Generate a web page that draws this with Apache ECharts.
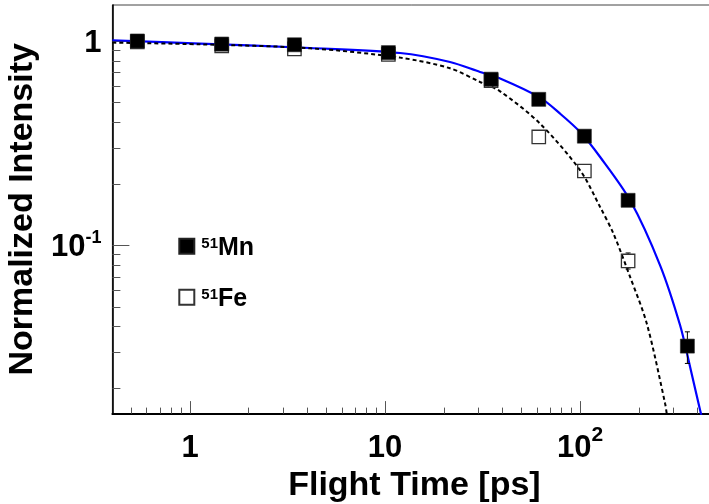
<!DOCTYPE html>
<html><head><meta charset="utf-8">
<script src="https://cdn.jsdelivr.net/npm/echarts@6/dist/echarts.min.js"></script>
<style>html,body{margin:0;padding:0;background:#fff}#c{width:709px;height:504px}</style>
</head><body><div id="c"></div>
<script>
// ---- data ----
const mnTime = [0.537, 1.454, 3.43, 10.4, 34.97, 61.4, 105.2, 176.3, 355];
const mnIntensity = [1.00, 0.966, 0.958, 0.877, 0.650, 0.518, 0.342, 0.166, 0.0321];
const mnErrLow = [0.985, 0.95, 0.94, 0.86, 0.635, 0.505, 0.333, 0.160, 0.0264];
const mnErrHigh = [1.015, 0.98, 0.975, 0.895, 0.665, 0.53, 0.351, 0.172, 0.0377];
const feTime = [0.537, 1.454, 3.43, 10.4, 34.97, 61.4, 105.2, 176.3];
const feIntensity = [0.99, 0.947, 0.914, 0.86, 0.64, 0.339, 0.231, 0.0838];
const feErrLow = [0.975, 0.93, 0.9, 0.845, 0.625, 0.33, 0.224, 0.0765];
const feErrHigh = [1.005, 0.965, 0.93, 0.875, 0.655, 0.348, 0.238, 0.0917];
const mnFitTime = [0.4, 1.125, 4.125, 11.94, 21.54, 30.7, 38.9, 62.3, 78.97, 100, 126.7, 180.5, 257.2, 325.7, 366.6, 412.6, 422.4];
const mnFitIntensity = [1.008, 0.971, 0.924, 0.873, 0.789, 0.705, 0.655, 0.528, 0.441, 0.3585, 0.2705, 0.166, 0.0798, 0.0406, 0.02537, 0.01557, 0.01423];
const feFitTime = [0.4, 1.125, 4.125, 11.94, 21.54, 30.7, 38.9, 62.3, 100, 126.7, 148.2, 180.5, 219.8, 272.9, 279.3];
const feFitIntensity = [0.982, 0.963, 0.921, 0.829, 0.735, 0.630, 0.567, 0.394, 0.233, 0.154, 0.1141, 0.070, 0.0414, 0.0168, 0.01455];
const xMajorTicks = [1, 10, 100];
const xMinorTicks = [0.5, 0.6, 0.7, 0.8, 0.9, 2, 3, 4, 5, 6, 7, 8, 9, 20, 30, 40, 50, 60, 70, 80, 90, 200, 300, 400];
const yMajorTicks = [0.1, 1];
const yMinorTicks = [0.02, 0.03, 0.04, 0.05, 0.06, 0.07, 0.08, 0.09, 0.2, 0.3, 0.4, 0.5, 0.6, 0.7, 0.8, 0.9];
const seriesNames = ['51Mn', '51Fe'];
const xTitle = 'Flight Time [ps]';
const yTitle = 'Normalized Intensity';

// ---- chart ----
const FONT = "'Liberation Sans', Arial, Helvetica, sans-serif";
const X_RANGE = [0.4, 500];
const Y_RANGE = [0.015, 1.5];
const gridBox = {left: 112.4, top: 5, width: 604, height: 408.6};

function powLabel(v) {
  const e = Math.round(Math.log10(v));
  if (e === 0) return '{b|1}';
  if (e === 1) return '{b|10}';
  return '{b|10}{sup|' + e + '}';
}
const pairs = (xs, ys) => xs.map((x, i) => [x, ys[i]]);
const errData = (xs, ys, lo, hi) => xs.map((x, i) => [x, ys[i], lo[i], hi[i]]);

function errRender(half) {
  return function (params, api) {
    const x = api.value(0), y = api.value(1), lo = api.value(2), hi = api.value(3);
    const c = api.coord([x, y]);
    const t = api.coord([x, hi]);
    const b = api.coord([x, lo]);
    const children = [];
    const st = {stroke: '#000', lineWidth: 1};
    if (t[1] < c[1] - half) {
      children.push({type: 'line', shape: {x1: c[0], y1: c[1] - half, x2: c[0], y2: t[1]}, style: st});
      children.push({type: 'line', shape: {x1: c[0] - 2.5, y1: t[1], x2: c[0] + 2.5, y2: t[1]}, style: st});
    }
    if (b[1] > c[1] + half) {
      children.push({type: 'line', shape: {x1: c[0], y1: c[1] + half, x2: c[0], y2: b[1]}, style: st});
      children.push({type: 'line', shape: {x1: c[0] - 2.5, y1: b[1], x2: c[0] + 2.5, y2: b[1]}, style: st});
    }
    return {type: 'group', children};
  };
}

const labelBase = {fontSize: 31, fontWeight: 'bold', fontFamily: FONT, color: '#000'};

const option = {
  animation: false,
  backgroundColor: '#fff',
  grid: [
    Object.assign({show: true, borderColor: '#444', borderWidth: 1, outerBoundsMode: 'none', containLabel: false}, gridBox),
    Object.assign({show: false, outerBoundsMode: 'none', containLabel: false}, gridBox)
  ],
  xAxis: [
    {
      type: 'log', gridIndex: 0, min: X_RANGE[0], max: X_RANGE[1],
      axisLine: {show: true, lineStyle: {color: '#000', width: 2}},
      axisTick: {show: true, inside: true, length: 12.5, customValues: xMajorTicks, lineStyle: {color: '#555', width: 1}},
      axisLabel: {show: true, margin: 11, customValues: xMajorTicks, formatter: powLabel,
        rich: {b: Object.assign({lineHeight: 47}, labelBase), sup: {fontSize: 21, fontWeight: 'bold', fontFamily: FONT, color: '#000', lineHeight: 21, verticalAlign: 'top'}}},
      splitLine: {show: false}, minorTick: {show: false},
      name: xTitle, nameLocation: 'middle', nameGap: 52,
      nameTextStyle: {fontSize: 34, fontWeight: 'bold', fontFamily: FONT, color: '#000'}
    },
    {
      type: 'log', gridIndex: 1, min: X_RANGE[0], max: X_RANGE[1],
      axisLine: {show: false},
      axisTick: {show: true, inside: true, length: 6, customValues: xMinorTicks, lineStyle: {color: '#555', width: 1}},
      axisLabel: {show: false}, splitLine: {show: false}
    }
  ],
  yAxis: [
    {
      type: 'log', gridIndex: 0, min: Y_RANGE[0], max: Y_RANGE[1],
      axisLine: {show: true, lineStyle: {color: '#000', width: 1.6}},
      axisTick: {show: true, inside: true, length: 17, customValues: yMajorTicks, lineStyle: {color: '#555', width: 1}},
      axisLabel: {show: true, margin: 11, customValues: yMajorTicks, formatter: powLabel,
        rich: {b: Object.assign({lineHeight: 36, padding: [4, 0, 0, 0]}, labelBase), sup: {fontSize: 18, fontWeight: 'bold', fontFamily: FONT, color: '#000', lineHeight: 18, verticalAlign: 'top', padding: [2, 0, 0, 0]}}},
      splitLine: {show: false}, minorTick: {show: false},
      name: yTitle, nameLocation: 'middle', nameGap: 71,
      nameTextStyle: {fontSize: 34, fontWeight: 'bold', fontFamily: FONT, color: '#000'}
    },
    {
      type: 'log', gridIndex: 1, min: Y_RANGE[0], max: Y_RANGE[1],
      axisLine: {show: false},
      axisTick: {show: true, inside: true, length: 8, customValues: yMinorTicks, lineStyle: {color: '#555', width: 1}},
      axisLabel: {show: false}, splitLine: {show: false}
    }
  ],
  legend: {
    left: 178.3, top: 231.8, padding: 0, orient: 'vertical', itemWidth: 15, itemHeight: 15, itemGap: 22,
    icon: 'rect', selectedMode: false, data: seriesNames,
    formatter: n => '{sup|' + n.slice(0, 2) + '}{el|' + n.slice(2) + '}',
    textStyle: {rich: {
      sup: {fontSize: 15, fontWeight: 'bold', fontFamily: FONT, color: '#000', lineHeight: 15, verticalAlign: 'top', padding: [2, 0, 0, 2]},
      el: {fontSize: 25, fontWeight: 'bold', fontFamily: FONT, color: '#000', lineHeight: 24, padding: [4, 0, 0, 0]}
    }}
  },
  series: [
    {
      name: 'Mn fit', type: 'line', xAxisIndex: 0, yAxisIndex: 0, data: pairs(mnFitTime, mnFitIntensity),
      showSymbol: false, smooth: 0.3, clip: true, lineStyle: {color: '#0000ff', width: 2.2}, z: 2
    },
    {
      name: 'Fe fit', type: 'line', xAxisIndex: 0, yAxisIndex: 0, data: pairs(feFitTime, feFitIntensity),
      showSymbol: false, smooth: 0.3, clip: true, lineStyle: {color: '#000', width: 2, type: [4, 3]}, z: 2
    },
    {
      name: 'Fe err', type: 'custom', xAxisIndex: 0, yAxisIndex: 0, data: errData(feTime, feIntensity, feErrLow, feErrHigh),
      renderItem: errRender(6.7), encode: {x: 0, y: [1, 2, 3]}, z: 3
    },
    {
      name: seriesNames[1], type: 'scatter', xAxisIndex: 0, yAxisIndex: 0, data: pairs(feTime, feIntensity),
      symbol: 'rect', symbolSize: 13.4, itemStyle: {color: 'rgba(255,255,255,0)', borderColor: '#333', borderWidth: 1.3, opacity: 1}, z: 4
    },
    {
      name: 'Mn err', type: 'custom', xAxisIndex: 0, yAxisIndex: 0, data: errData(mnTime, mnIntensity, mnErrLow, mnErrHigh),
      renderItem: errRender(7), encode: {x: 0, y: [1, 2, 3]}, z: 5
    },
    {
      name: seriesNames[0], type: 'scatter', xAxisIndex: 0, yAxisIndex: 0, data: pairs(mnTime, mnIntensity),
      symbol: 'rect', symbolSize: 14, itemStyle: {color: '#000', borderColor: '#222', borderWidth: 0.6, opacity: 1}, z: 6
    }
  ]
};
const chart = echarts.init(document.getElementById('c'));
chart.setOption(option);
</script>
</body></html>
